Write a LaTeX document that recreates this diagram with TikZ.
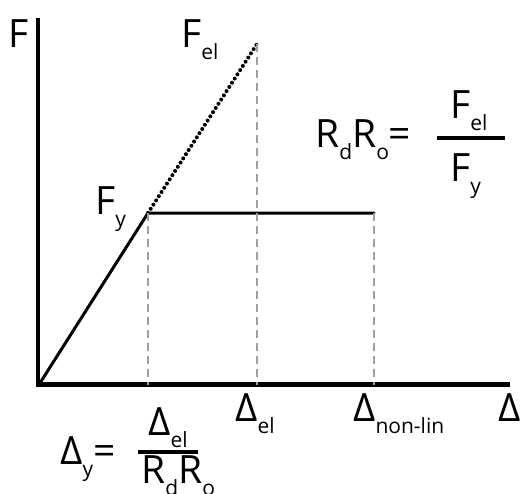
\documentclass[tikz,border=0pt]{standalone}
\usepackage{fontspec}
\setmainfont{Open Sans}
\newcommand{\subtxt}[1]{\raisebox{-12pt}{\fontsize{21}{21}\selectfont #1}}

\begin{document}
\begin{tikzpicture}[x=1pt, y=-1pt,
    lbl/.style={font=\fontsize{39}{39}\selectfont, anchor=base west, inner sep=0pt},
    axis/.style={line width=4.5pt},
    curve/.style={line width=3pt, line cap=round},
    elastic/.style={line width=4pt, line cap=round, dash pattern=on 0pt off 5pt},
    guide/.style={gray!75, line width=1.2pt, dash pattern=on 8pt off 5pt},
    bar/.style={line width=4pt}
]
\useasboundingbox (0,0) rectangle (526,493);

% axes
\coordinate (O) at (38,384.5);
\coordinate (Ftop) at (38,18);
\coordinate (Dend) at (510,384.5);
\coordinate (Ostart) at (35.5,384.5);
\draw[axis] (Ftop) -- (O);
\draw[axis] (Ostart) -- (Dend);

% force-deformation curve
\coordinate (Base) at (40,383);
\coordinate (Yld) at (148,213);
\coordinate (Fel) at (257,44);
\coordinate (Nl) at (374,213);
\draw[curve] (Base) -- (Yld) -- (Nl);
\draw[elastic] (Yld) -- (Fel);

% guide lines down to the axis
\foreach \c in {Yld, Fel, Nl} {
    \draw[guide] (\c) -- (\c |- O);
}

% labels
\node[lbl] (lF) at (8,47) {F};
\node[lbl] (lFel) at (181,47) {F\subtxt{el}};
\node[lbl] (lFy) at (95,214) {F\subtxt{y}};
\node[lbl] (lDel) at (235,421) {Δ\subtxt{el}};
\node[lbl] (lDnl) at (353,421) {Δ\subtxt{non-lin}};
\node[lbl] (lD) at (498,421) {Δ};

% R_d R_o = F_el / F_y
\node[lbl] (lRR) at (315,147) {R\subtxt{d}R\subtxt{o}=};
\draw[bar] (437,138) -- (505,138);
\node[lbl] (lRtop) at (450,118) {F\subtxt{el}};
\node[lbl] (lRbot) at (450,181) {F\subtxt{y}};

% Delta_y = Delta_el / (R_d R_o)
\node[lbl] (lDy) at (60,464) {Δ\subtxt{y}=};
\draw[bar] (138,452) -- (198,452);
\node[lbl] (lDtop) at (148,435) {Δ\subtxt{el}};
\node[lbl] (lDbot) at (141,483) {R\subtxt{d}R\subtxt{o}};
\end{tikzpicture}
\end{document}
